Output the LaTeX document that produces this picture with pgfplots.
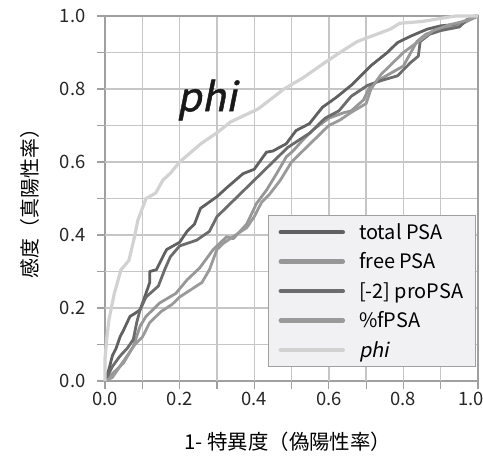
\documentclass[border=0pt]{standalone}
\usepackage{fontspec}
\setmainfont{Noto Sans CJK JP}[ItalicFont={Noto Sans CJK JP},ItalicFeatures={FakeSlant=0.2}]
\usepackage{pgfplots}
\pgfplotsset{compat=1.18}
\definecolor{cTot}{HTML}{606060}
\definecolor{cFree}{HTML}{979797}
\definecolor{cPro}{HTML}{6C6C6C}
\definecolor{cPct}{HTML}{9A9A9A}
\definecolor{cPhi}{HTML}{D2D2D2}
\definecolor{mygridcolor}{RGB}{198,198,198}
\definecolor{axc}{HTML}{A0A0A0}
\definecolor{legfill}{HTML}{F1F1F3}
\begin{document}
\begin{tikzpicture}
\begin{axis}[
  scale only axis, width=373bp, height=365bp,
  xmin=0, xmax=1, ymin=0, ymax=1,
  xtick={0,0.2,0.4,0.6,0.8,1}, ytick={0,0.2,0.4,0.6,0.8,1},
  minor xtick={0.1,0.3,0.5,0.7,0.9}, minor ytick={0.1,0.3,0.5,0.7,0.9},
  xticklabels={0.0,0.2,0.4,0.6,0.8,\makebox[0pt][r]{1.0\hspace*{-6bp}}},
  yticklabels={0.0,0.2,0.4,0.6,0.8,1.0},
  xtick pos=left, ytick pos=left,
  tick align=outside, major tick length=8bp, minor tick length=8bp,
  major tick style={color=axc, line width=1.2bp},
  minor tick style={color=axc, line width=1.2bp},
  grid=both,
  major grid style={draw=mygridcolor, line width=1.4bp},
  minor grid style={draw=mygridcolor, line width=1.4bp},
  axis line style={draw=axc, line width=1.3bp},
  tick label style={font=\fontsize{18.5}{21}\selectfont, text=black!85},
  yticklabel style={xshift=-8bp},
  xlabel={1- 特異度（偽陽性率）},
  ylabel={感度（真陽性率）},
  xlabel style={font=\fontsize{20.5}{24}\selectfont, at={(axis description cs:0.49,-0.167)}, anchor=center},
  ylabel style={font=\fontsize{20}{24}\selectfont, at={(axis description cs:-0.2,0.5)}, anchor=center, rotate=0},
  legend style={at={(rel axis cs:0.994,0.038)}, anchor=south east, fill=legfill, draw=axc, line width=1bp,
    font=\fontsize{20}{23}\selectfont, row sep=8bp, inner xsep=10bp, inner ysep=6bp,
    /tikz/every odd column/.append style={column sep=12bp}},
  legend cell align=left,
  legend image code/.code={\draw[#1, line width=4.5bp, line cap=round] (0bp,0bp) -- (62bp,0bp);},
  clip=false,
]
\pgfplotsinvokeforeach{0.1,0.2,0.3,0.4,0.5,0.6,0.7,0.8,0.9}{
  \addplot[forget plot, draw=mygridcolor, line width=1.4bp, mark=none] coordinates {(#1,0) (#1,1)};
  \addplot[forget plot, draw=mygridcolor, line width=1.4bp, mark=none] coordinates {(0,#1) (1,#1)};
}
\addplot[forget plot, draw=axc, line width=1.3bp, mark=none] coordinates {(0,1) (1,1) (1,0)};
\addplot[cTot, line width=2.8bp, line join=round] coordinates {
(0,0)(0.01,0.03)(0.02,0.07)(0.03,0.09)(0.04,0.12)(0.05,0.14)(0.067,0.177)(0.08,0.185)(0.094,0.195)(0.103,0.22)(0.12,0.27)(0.12,0.30)(0.138,0.305)(0.15,0.33)(0.165,0.36)(0.2,0.38)(0.22,0.41)(0.24,0.43)(0.256,0.473)(0.3,0.505)(0.327,0.53)(0.37,0.568)(0.4,0.58)(0.433,0.627)(0.45,0.63)(0.486,0.65)(0.512,0.686)(0.548,0.705)(0.583,0.75)(0.62,0.777)(0.66,0.81)(0.713,0.864)(0.757,0.9)(0.784,0.927)(0.82,0.945)(0.864,0.964)(0.9,0.973)(0.944,0.977)(0.96,0.982)(0.99,1.0)(1,1)};
\addlegendentry{total PSA}
\addplot[cFree, line width=2.8bp, line join=round] coordinates {
(0,0)(0.03,0.03)(0.05,0.05)(0.076,0.095)(0.094,0.15)(0.11,0.177)(0.147,0.214)(0.19,0.24)(0.22,0.277)(0.254,0.31)(0.29,0.36)(0.326,0.395)(0.344,0.39)(0.38,0.43)(0.406,0.486)(0.433,0.523)(0.46,0.568)(0.486,0.614)(0.504,0.63)(0.53,0.66)(0.56,0.69)(0.6,0.72)(0.64,0.735)(0.66,0.74)(0.693,0.77)(0.711,0.808)(0.738,0.827)(0.8,0.863)(0.836,0.93)(0.86,0.95)(0.9,0.965)(0.94,0.97)(0.97,0.985)(1,1)};
\addlegendentry{free PSA}
\addplot[cPro, line width=2.8bp, line join=round] coordinates {
(0,0)(0.02,0.04)(0.04,0.068)(0.06,0.09)(0.076,0.114)(0.085,0.16)(0.094,0.195)(0.11,0.23)(0.143,0.26)(0.16,0.305)(0.175,0.34)(0.2,0.37)(0.246,0.386)(0.28,0.41)(0.3,0.45)(0.33,0.48)(0.36,0.51)(0.4,0.55)(0.42,0.57)(0.45,0.6)(0.49,0.64)(0.52,0.66)(0.55,0.68)(0.59,0.72)(0.627,0.74)(0.66,0.78)(0.704,0.81)(0.74,0.823)(0.784,0.836)(0.82,0.873)(0.84,0.89)(0.845,0.93)(0.87,0.95)(0.9,0.96)(0.95,0.97)(0.97,0.99)(1,1)};
\addlegendentry{[-2] proPSA}
\addplot[cPct, line width=2.8bp, line join=round] coordinates {
(0,0)(0.02,0.01)(0.04,0.04)(0.06,0.07)(0.08,0.10)(0.1,0.12)(0.12,0.16)(0.15,0.19)(0.18,0.21)(0.2,0.23)(0.23,0.25)(0.26,0.27)(0.28,0.305)(0.3,0.36)(0.317,0.377)(0.35,0.40)(0.38,0.42)(0.4,0.45)(0.42,0.49)(0.44,0.51)(0.47,0.55)(0.5,0.6)(0.53,0.63)(0.56,0.66)(0.6,0.70)(0.63,0.715)(0.66,0.736)(0.7,0.76)(0.713,0.8)(0.74,0.84)(0.77,0.87)(0.8,0.9)(0.84,0.93)(0.88,0.96)(0.92,0.975)(0.96,0.985)(1,1)};
\addlegendentry{\%fPSA}
\addplot[cPhi, line width=3.2bp, line join=round] coordinates {
(0,0)(0,0.06)(0.005,0.12)(0.011,0.17)(0.025,0.24)(0.043,0.305)(0.064,0.33)(0.078,0.39)(0.088,0.44)(0.11,0.50)(0.136,0.515)(0.155,0.55)(0.176,0.57)(0.2,0.6)(0.257,0.65)(0.3,0.68)(0.337,0.71)(0.41,0.745)(0.48,0.80)(0.53,0.83)(0.586,0.87)(0.63,0.9)(0.676,0.93)(0.765,0.964)(0.79,0.98)(0.85,0.985)(0.94,1.0)(1,1)};
\addlegendentry{\itshape phi}
\node[font=\fontsize{40}{40}\selectfont\itshape\addfontfeature{FakeBold=1.2}, text=black!90] at (axis cs:0.273,0.77) {phi};
\end{axis}
\path (-105bp,-75bp) rectangle (378bp,381bp);
\end{tikzpicture}
\end{document}
